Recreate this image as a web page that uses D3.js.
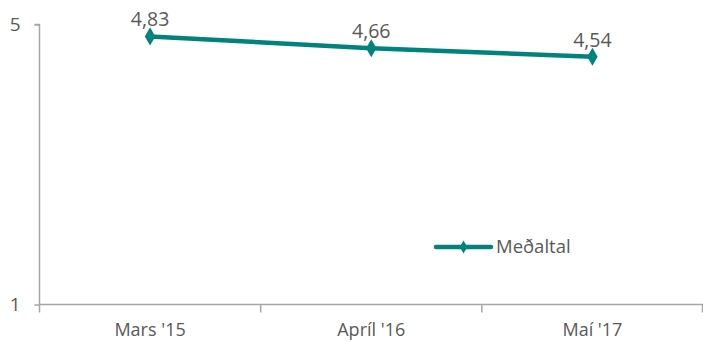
<!DOCTYPE html>
<html><head><meta charset="utf-8">
<script src="https://cdn.jsdelivr.net/npm/d3@7"></script>
<style>body{margin:0;background:#fff}svg{display:block}text{font-family:"Open Sans",sans-serif;fill:#595959}</style>
</head><body><svg id="c" width="703" height="342"></svg>
<script>
const categories = ["Mars '15", "Apríl '16", "Maí '17"];
const values = [4.83, 4.66, 4.54];
const valueLabels = ["4,83", "4,66", "4,54"];
const yTicks = [1, 5];
const seriesName = "Meðaltal";

const svg = d3.select("#c");
const color = "#00827D", axisColor = "#A6A6A6";
const x = d3.scaleBand().domain(categories).range([39.5, 703]);
const y = d3.scaleLinear().domain([1, 5]).range([304.5, 24.5]);

// y axis
const ya = svg.append("g").attr("transform", "translate(39.5,0)")
  .call(d3.axisLeft(y).tickValues(yTicks).tickFormat(d3.format("d")).tickSize(5).tickPadding(14));
ya.select(".domain").attr("stroke", axisColor).attr("stroke-width", 1.5).attr("d", `M-5,${y(5)}H0V${y(1)}`);
ya.selectAll(".tick line").attr("stroke", axisColor).attr("stroke-width", 1.5);
ya.selectAll("text").style("font-size", "19px").attr("fill", "#595959");

// x axis
const xa = svg.append("g").attr("transform", `translate(0,${y(1)})`)
  .call(d3.axisBottom(x).tickSize(0).tickPadding(19));
xa.select(".domain").attr("stroke", axisColor).attr("stroke-width", 1.5).attr("d", `M${x.range()[0]},0H${x.range()[1]}`);
xa.selectAll("text").style("font-size", "18px").attr("fill", "#595959");
const edges = categories.map(c => x(c)).concat([x.range()[1] - 0.5]);
xa.selectAll(".sep").data(edges).join("line").attr("class","sep")
  .attr("x1", d => d).attr("x2", d => d).attr("y1", 0).attr("y2", 8)
  .attr("stroke", axisColor).attr("stroke-width", 1.5);

const cx = c => x(c) + x.bandwidth() / 2;
const line = d3.line().x((d, i) => cx(categories[i])).y(d => y(d));
svg.append("path").datum(values).attr("d", line).attr("fill", "none")
  .attr("stroke", color).attr("stroke-width", 4.5);

const diamond = d3.symbol().type(d3.symbolDiamond).size(95);
svg.selectAll(".pt").data(values).join("path").attr("class", "pt")
  .attr("d", diamond).attr("fill", color)
  .attr("transform", (d, i) => `translate(${cx(categories[i])},${y(d)})`);

svg.selectAll(".lbl").data(values).join("text").attr("class", "lbl")
  .attr("x", (d, i) => cx(categories[i])).attr("y", d => y(d) - 10)
  .attr("text-anchor", "middle").style("font-size", "19.5px")
  .text((d, i) => valueLabels[i]);

// legend
const lg = svg.append("g").attr("transform", "translate(436,247)");
lg.append("line").attr("x1", 0).attr("x2", 55).attr("stroke", color).attr("stroke-width", 4.5).attr("stroke-linecap", "round");
lg.append("path").attr("d", d3.symbol().type(d3.symbolDiamond).size(50)).attr("fill", color).attr("transform", "translate(27.5,0)");
lg.append("text").attr("x", 60).attr("y", 0).attr("dy", "0.35em").style("font-size", "18.5px").text(seriesName);
</script></body></html>
